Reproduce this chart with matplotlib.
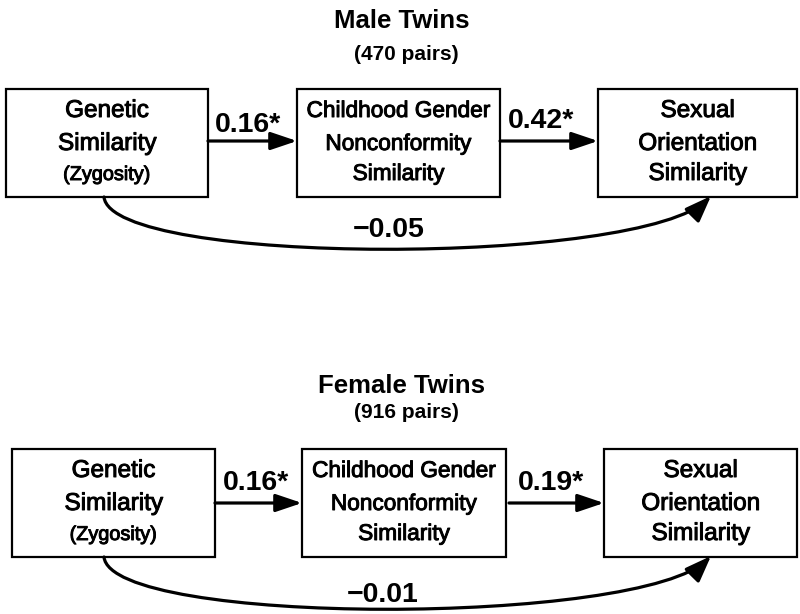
import matplotlib
matplotlib.use("Agg")
import matplotlib.pyplot as plt
from matplotlib.patches import Rectangle, FancyArrowPatch
from matplotlib.path import Path
import matplotlib.patheffects as pe

# ---------------- data ----------------
panel_titles = ["Male Twins", "Female Twins"]
pair_counts = [470, 916]
path_gen_to_cgn = [0.16, 0.16]      # Genetic -> Childhood gender nonconformity
path_cgn_to_so = [0.42, 0.19]       # CGN -> Sexual orientation
path_gen_to_so = [-0.05, -0.01]     # direct path
sig_gen_to_cgn = [True, True]
sig_cgn_to_so = [True, True]
sig_gen_to_so = [False, False]
node_genetic = ["Genetic", "Similarity", "(Zygosity)"]
node_cgn = ["Childhood Gender", "Nonconformity", "Similarity"]
node_so = ["Sexual", "Orientation", "Similarity"]

# ---------------- layout ----------------
W, H = 800, 614
fig = plt.figure(figsize=(W / 100, H / 100), dpi=100)
ax = fig.add_axes([0, 0, 1, 1])
ax.set_xlim(0, W)
ax.set_ylim(H, 0)
ax.axis("off")

FONT = ["Liberation Sans", "DejaVu Sans"]
thick = [pe.withStroke(linewidth=0.7, foreground="black")]

box_top = [89, 449]
box_h = 108
box_x = [[(6, 208), (297, 500), (598, 797)],
         [(12, 215), (302, 506), (604, 797)]]
title_base = [28, 393]
pairs_base = [60, 418]
curve_bottom = [249, 609]
coef_c_base = [237, 602]
coef_c_x = [389, 383]
coef_a_x = [248, 256]
coef_b_x = [541, 551]
coef_a_base = [132, 490]
coef_b_base = [128, 490]
arrow_dy = [52, 54]


def fmt(v, sig):
    s = f"{v:.2f}".replace("-", "\u2212")
    return s + ("*" if sig else "")


for p in range(2):
    top = box_top[p]
    # titles
    ax.text(402, title_base[p], panel_titles[p], ha="center", va="baseline",
            fontsize=18.5, fontweight="bold", family=FONT)
    ax.text(406, pairs_base[p], f"({pair_counts[p]} pairs)", ha="center",
            va="baseline", fontsize=15, fontweight="bold", family=FONT)

    # boxes
    labels = [node_genetic, node_cgn, node_so]
    for i, (x0, x1) in enumerate(box_x[p]):
        ax.add_patch(Rectangle((x0, top), x1 - x0, box_h, fill=False,
                               lw=1.6, edgecolor="black"))
        cx = (x0 + x1) / 2
        for j, line in enumerate(labels[i]):
            size = 17.5 if i != 1 else 16.3
            if i == 0 and j == 2:
                size = 14.3
            ax.text(cx, top + [28, 61, 91][j], line, ha="center",
                    va="baseline", fontsize=size, family=FONT,
                    path_effects=thick)

    ya = top + arrow_dy[p]
    # straight arrows
    (b0a, b0b), (b1a, b1b), (b2a, b2b) = box_x[p]
    for xs, xe in [(b0b, b1a), (b1b + (3 if p == 1 else 0), b2a)]:
        ax.add_patch(FancyArrowPatch((xs, ya), (xe, ya),
                                     arrowstyle="-|>,head_length=0.8,head_width=0.27",
                                     mutation_scale=20, lw=2.3, color="black",
                                     shrinkA=0, shrinkB=0))
    ax.text(coef_a_x[p], coef_a_base[p], fmt(path_gen_to_cgn[p], sig_gen_to_cgn[p]),
            ha="center", va="baseline", fontsize=20.5, fontweight="bold", family=FONT)
    ax.text(coef_b_x[p], coef_b_base[p], fmt(path_cgn_to_so[p], sig_cgn_to_so[p]),
            ha="center", va="baseline", fontsize=20.5, fontweight="bold", family=FONT)

    # curved direct path
    y0 = top + box_h
    ctrl = y0 + (curve_bottom[p] - y0) / 0.75
    verts = [(104, y0), (111, ctrl), (642, ctrl), (711, y0 - 1)]
    codes = [Path.MOVETO, Path.CURVE4, Path.CURVE4, Path.CURVE4]
    ax.add_patch(FancyArrowPatch(path=Path(verts, codes),
                                 arrowstyle="-|>,head_length=0.8,head_width=0.3",
                                 mutation_scale=20, lw=2.3, color="black"))
    ax.text(coef_c_x[p], coef_c_base[p], fmt(path_gen_to_so[p], sig_gen_to_so[p]),
            ha="center", va="baseline", fontsize=20.5, fontweight="bold", family=FONT)

fig.savefig("out.png", dpi=100, facecolor="white")
